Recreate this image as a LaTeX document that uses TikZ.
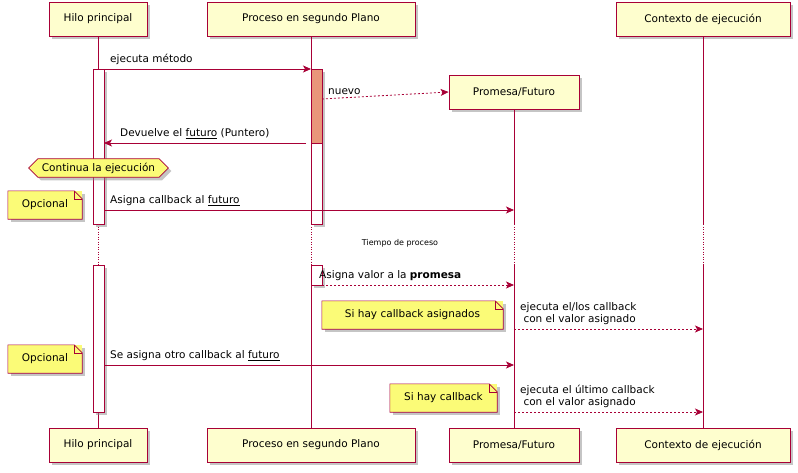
\documentclass[tikz,border=0pt]{standalone}
\usepackage{fontspec}
\setmainfont{DejaVu Sans}
\usetikzlibrary{positioning,shapes.symbols,shadows,arrows.meta}
\definecolor{linea}{HTML}{A80036}
\definecolor{caja}{HTML}{FEFECE}
\definecolor{notaamarilla}{HTML}{FBFB77}
\definecolor{salmon}{HTML}{E9967A}
\tikzset{
    sombra/.style={drop shadow={shadow xshift=3pt,shadow yshift=-3pt,fill=black!45,opacity=.5}},
    participante/.style={draw=linea, fill=caja, line width=0.8pt, sombra, minimum height=34pt, inner sep=0pt, font=\fontsize{10.5}{12}\selectfont},
    vida/.style={draw=linea, line width=0.5pt},
    vidapunteada/.style={draw=linea, line width=0.5pt, dotted},
    activa/.style={draw=linea, fill=white, line width=0.8pt, sombra},
    activasalmon/.style={draw=linea, fill=salmon, line width=0.8pt},
    mensaje/.style={draw=linea, line width=0.8pt, -{Stealth[length=8pt,width=7pt,inset=2pt]}},
    respuesta/.style={mensaje, dashed, dash pattern=on 2pt off 2pt},
    etiqueta/.style={font=\fontsize{10.5}{12}\selectfont, inner sep=0pt, align=left},
    nota/.style={fill=notaamarilla, sombra, inner sep=5pt, minimum height=28pt, font=\fontsize{10.5}{12}\selectfont},
}
\newcommand{\doblez}[1]{%
    \draw[linea, line width=0.6pt] (#1.south west) -- (#1.north west) -- ([xshift=-8pt]#1.north east)
        -- ([yshift=-8pt]#1.north east) -- (#1.south east) -- cycle;
    \draw[linea, line width=0.6pt] ([xshift=-8pt]#1.north east) -- ([xshift=-8pt,yshift=-8pt]#1.north east) -- ([yshift=-8pt]#1.north east);}
\begin{document}
\begin{tikzpicture}[x=1pt, y=-1pt]
    \useasboundingbox (0,0) rectangle (798,472);
    % participantes
    \node[participante, minimum width=98pt] (hilo) at (98,19) {Hilo principal};
    \node[participante, minimum width=208pt] (proceso) at (311,19) {Proceso en segundo Plano};
    \node[participante, minimum width=174pt] (contexto) at (703,19) {Contexto de ejecución};
    \node[participante, minimum width=98pt] (hiloB) at (98,445) {Hilo principal};
    \node[participante, minimum width=208pt] (procesoB) at (311,445) {Proceso en segundo Plano};
    \node[participante, minimum width=130pt] (promesaB) at (514,445) {Promesa/Futuro};
    \node[participante, minimum width=174pt] (contextoB) at (703,445) {Contexto de ejecución};
    % lineas de vida
    \foreach \x/\a/\b in {98/hilo/hiloB, 311/proceso/procesoB, 703/contexto/contextoB}{
        \draw[vida] (\a.south) -- (\x,224);
        \draw[vidapunteada] (\x,224) -- (\x,265);
        \draw[vida] (\x,265) -- (\b.north);
    }
    \node[participante, minimum width=130pt] (promesa) at (514,92) {Promesa/Futuro};
    \draw[vida] (promesa.south) -- (514,224);
    \draw[vidapunteada] (514,224) -- (514,265);
    \draw[vida] (514,265) -- (promesaB.north);
    % activaciones
    \draw[activa] (93,69) rectangle (104,224);
    \draw[activa] (93,265) rectangle (104,412);
    \draw[activa] (311,69) rectangle (322,224);
    \draw[activasalmon] (311,69) rectangle (322,143);
    \draw[activa] (311,265) rectangle (322,285);
    % puntos de mensajes
    \coordinate (h1) at (104,69);   \coordinate (p1) at (311,69);
    \coordinate (p2) at (322,99);
    \coordinate (p3) at (306,143);  \coordinate (h3) at (104,143);
    \coordinate (h4) at (104,210);  \coordinate (f4) at (514,210);
    \coordinate (p5) at (322,285);  \coordinate (f5) at (514,285);
    \coordinate (f6) at (514,329);  \coordinate (c6) at (703,329);
    \coordinate (h7) at (104,365);  \coordinate (f7) at (514,365);
    \coordinate (f8) at (514,412);  \coordinate (c8) at (703,412);
    % mensajes
    \draw[mensaje] (h1) -- (p1);
    \node[etiqueta, anchor=south west] at (110,65) {ejecuta método};
    \draw[respuesta] (p2) -- (promesa.west);
    \node[etiqueta, anchor=south west] at (328,95) {nuevo};
    \draw[mensaje] (p3) -- (h3);
    \node[etiqueta, anchor=south west] at (120,139) {Devuelve el \underline{futuro} (Puntero)};
    \node[draw=linea, fill=notaamarilla, line width=0.6pt, sombra, shape=signal, signal to=west and east,
          inner xsep=4pt, inner ysep=4pt, font=\fontsize{10.5}{12}\selectfont] (continua) at (98.5,168) {Continua la ejecución};
    \draw[mensaje] (h4) -- (f4);
    \node[etiqueta, anchor=south west] at (110,206) {Asigna callback al \underline{futuro}};
    \node[nota, minimum width=74pt] (opcional1) at (45,205) {Opcional};
    \doblez{opcional1}
    \node[font=\fontsize{8}{10}\selectfont] (tiempo) at (400,243) {Tiempo de proceso};
    \draw[respuesta] (p5) -- (f5);
    \node[etiqueta, anchor=south west] at (319,281) {Asigna valor a la \textbf{promesa}};
    \draw[respuesta] (f6) -- (c6);
    \node[etiqueta, anchor=south west] at (520,325) {ejecuta el/los callback\\\ con el valor asignado};
    \node[nota, minimum width=181pt] (sihay1) at (412.5,315) {Si hay callback asignados};
    \doblez{sihay1}
    \draw[mensaje] (h7) -- (f7);
    \node[etiqueta, anchor=south west] at (110,361) {Se asigna otro callback al \underline{futuro}};
    \node[nota, minimum width=74pt] (opcional2) at (45,359) {Opcional};
    \doblez{opcional2}
    \draw[respuesta] (f8) -- (c8);
    \node[etiqueta, anchor=south west] at (520,408) {ejecuta el último callback\\\ con el valor asignado};
    \node[nota, minimum width=107pt] (sihay2) at (443.5,398) {Si hay callback};
    \doblez{sihay2}
\end{tikzpicture}
\end{document}
